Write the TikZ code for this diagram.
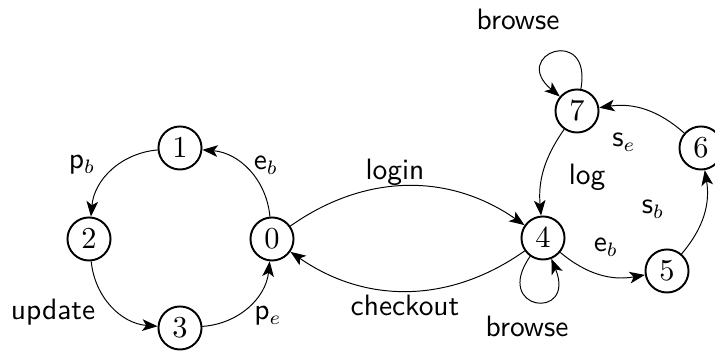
\documentclass[tikz,border=0pt]{standalone}
\usepackage{amsmath}
\usetikzlibrary{positioning,arrows.meta}
\begin{document}
\begin{tikzpicture}[x=0.36pt,y=0.36pt]
    \tikzset{
        state/.style={circle,draw,line width=0.7pt,minimum size=15.5pt,inner sep=0pt,font=\fontsize{10.5}{12}\selectfont},
        trans/.style={-{Stealth[length=5.5pt,width=4.2pt,inset=1.4pt]},line width=0.35pt},
        lbl/.style={font=\sffamily\fontsize{10.6}{12}\selectfont,inner sep=0pt},}
    \useasboundingbox (0,0) rectangle (715,354);
    % states
    \node[state] (q0) at (272,115) {$0$};
    \node[state] (q1) at (180,206) {$1$};
    \node[state] (q2) at (89,115) {$2$};
    \node[state] (q3) at (180,26) {$3$};
    \node[state] (q4) at (543,116) {$4$};
    \node[state] (q5) at (667,83) {$5$};
    \node[state] (q6) at (701,206) {$6$};
    \node[state] (q7) at (577,243) {$7$};
    % labels
    \node[lbl] (lpb) at (82,189) {p$_b$};
    \node[lbl] (leb) at (266,189) {e$_b$};
    \node[lbl] (lup) at (53,42) {update};
    \node[lbl] (lpe) at (268,38) {p$_e$};
    \node[lbl] (llogin) at (395,182) {login};
    \node[lbl] (lcheck) at (405,49) {checkout};
    \node[lbl] (lbrowa) at (518,335) {browse};
    \node[lbl] (lbrowb) at (527,28) {browse};
    \node[lbl] (llog) at (587,177) {log};
    \node[lbl] (lse) at (624,212) {s$_e$};
    \node[lbl] (lsb) at (653,145) {s$_b$};
    \node[lbl] (leb2) at (606,107) {e$_b$};
    % transitions
    \draw[trans] (q0) to[bend right=40] (q1);
    \draw[trans] (q1) to[bend right=40] (q2);
    \draw[trans] (q2) to[bend right=40] (q3);
    \draw[trans] (q3) to[bend right=40] (q0);
    \draw[trans] (q0) to[bend left=35] (q4);
    \draw[trans] (q4) to[bend left=35] (q0);
    \draw[trans] (q7) to[bend right=20] (q4);
    \draw[trans] (q4) to[bend right=25] (q5);
    \draw[trans] (q5) to[bend right=25] (q6);
    \draw[trans] (q6) to[bend right=25] (q7);
    \draw[trans] (q7) to[out=80,in=140,looseness=7.5] (q7);
    \draw[trans] (q4) to[out=235,in=292,looseness=8] (q4);
\end{tikzpicture}
\end{document}
